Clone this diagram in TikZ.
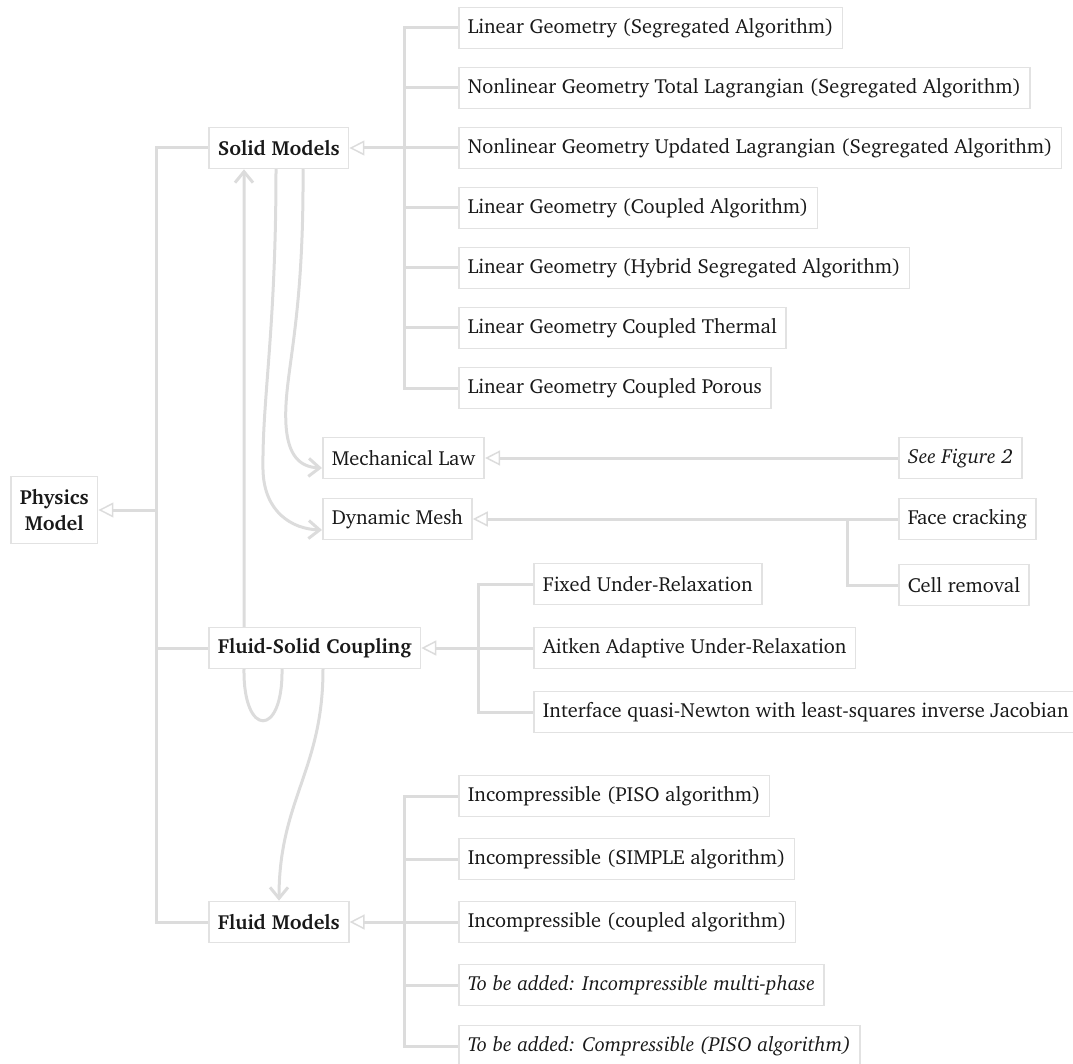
\documentclass[tikz,border=0pt]{standalone}
\usepackage[T1]{fontenc}
\usepackage{charter}
\usepackage{tikz}
\usetikzlibrary{arrows.meta}

\definecolor{linegray}{RGB}{220,220,220}
\definecolor{boxgray}{RGB}{226,226,226}
\definecolor{txtgray}{RGB}{25,25,25}
\pgfdeclarelayer{bg}
\pgfsetlayers{bg,main}

\begin{document}
\begin{tikzpicture}[x=1pt, y=-1pt,
  box/.style = {draw=boxgray, line width=1.6pt, fill=white, text=txtgray, anchor=west,
                minimum height=41pt, inner xsep=9pt, font=\fontsize{20.4}{26}\selectfont},
  head/.style = {box, font=\fontsize{20.4}{26}\selectfont\bfseries},
  tree/.style = {draw=linegray, line width=3pt},
  hollow/.style = {tree, -{Triangle[open, length=15pt, width=15pt, line width=1.5pt]}},
  flow/.style = {draw=linegray, line width=3pt, line cap=round,
                 -{Straight Barb[length=11pt, width=18pt, line width=3pt]}}]
\useasboundingbox (0,0) rectangle (1073,1064);

% main groups
\node[head, align=center, minimum height=67pt] (phys) at (10,510) {Physics\\Model};
\node[head] (solid) at (208,148) {Solid Models};
\node[head] (fsc) at (208,648) {Fluid-Solid Coupling};
\node[head] (fluid) at (208,922) {Fluid Models};

% solid models
\node[box] (linseg) at (458,28) {Linear Geometry (Segregated Algorithm)};
\node[box] (nltl) at (458,88) {Nonlinear Geometry Total Lagrangian (Segregated Algorithm)};
\node[box] (nlul) at (458,148) {Nonlinear Geometry Updated Lagrangian (Segregated Algorithm)};
\node[box] (lincpl) at (458,208) {Linear Geometry (Coupled Algorithm)};
\node[box] (linhyb) at (458,268) {Linear Geometry (Hybrid Segregated Algorithm)};
\node[box] (linthm) at (458,328) {Linear Geometry Coupled Thermal};
\node[box] (linpor) at (458,388) {Linear Geometry Coupled Porous};

% mechanical law and mesh
\node[box] (mech) at (322,458) {Mechanical Law};
\node[box] (fig2) at (898,458) {\itshape See Figure 2};
\node[box] (dmesh) at (322,519) {Dynamic Mesh};
\node[box] (crack) at (898,519) {Face cracking};
\node[box] (cellrm) at (898,585) {Cell removal};

% coupling
\node[box] (fixrel) at (533,584) {Fixed Under-Relaxation};
\node[box] (aitken) at (533,648) {Aitken Adaptive Under-Relaxation};
\node[box] (iqn) at (533,712) {Interface quasi-Newton with least-squares inverse Jacobian};

% fluid models
\node[box] (piso) at (458,796) {Incompressible (PISO algorithm)};
\node[box] (simple) at (458,859) {Incompressible (SIMPLE algorithm)};
\node[box] (incpl) at (458,922) {Incompressible (coupled algorithm)};
\node[box] (multiph) at (458,985) {\itshape To be added: Incompressible multi-phase};
\node[box] (cmpiso) at (458,1046) {\itshape To be added: Compressible (PISO algorithm)};

\begin{pgfonlayer}{bg}
\coordinate (trunk) at (156,510);
\draw[tree] (solid.west) -| (trunk) |- (fluid.west);
\draw[tree] (fsc.west) -- (fsc.west -| trunk);
\draw[hollow] (trunk) -- (phys.east);

\coordinate (sstem) at (404,148);
\draw[tree] (linseg.west) -| (sstem) |- (linpor.west);
\foreach \c in {nltl,nlul,lincpl,linhyb,linthm}
  \draw[tree] (\c.west) -- (\c.west -| sstem);
\draw[hollow] (sstem) -- (solid.east);

\draw[hollow] (fig2.west) -- (mech.east);
\coordinate (dstem) at (847,519);
\draw[hollow] (crack.west) -- (dmesh.east);
\draw[tree] (dstem) |- (cellrm.west);

\coordinate (fstem) at (478,648);
\draw[tree] (fixrel.west) -| (fstem) |- (iqn.west);
\draw[tree] (aitken.west) -- (fstem);
\draw[hollow] (fstem) -- (fsc.east);

\coordinate (flstem) at (404,922);
\draw[tree] (piso.west) -| (flstem) |- (cmpiso.west);
\foreach \c in {simple,multiph}
  \draw[tree] (\c.west) -- (\c.west -| flstem);
\draw[tree] (incpl.west) -- (flstem);
\draw[hollow] (flstem) -- (fluid.east);

% curved links
\draw[flow] ([xshift=95pt]solid.south west) .. controls (304,330) and (283,375) .. (286,425)
  .. controls (288,456) and (300,467) .. ([yshift=-10pt]mech.west);
\draw[flow] ([xshift=68pt]solid.south west) .. controls (276,330) and (262,400) .. (263,470)
  .. controls (264,512) and (292,529) .. ([yshift=-11pt]dmesh.west);
\draw[flow] ([xshift=74pt]fsc.south west) .. controls (283,738) and (243,738) .. (244,669)
  -- ([xshift=36pt]solid.south west);
\draw[flow] ([xshift=115pt]fsc.south west) .. controls (323,770) and (279,800)
  .. ([xshift=71pt]fluid.north west);
\end{pgfonlayer}
\end{tikzpicture}
\end{document}
